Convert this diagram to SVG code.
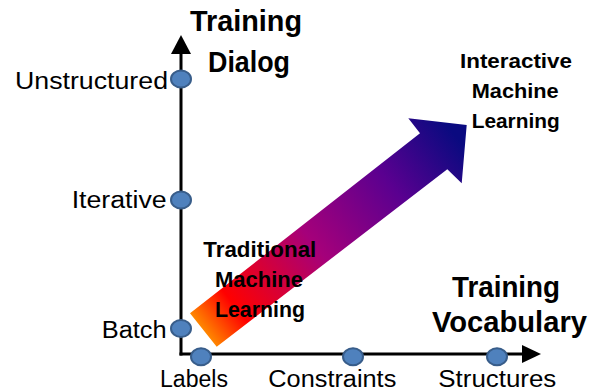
<svg xmlns="http://www.w3.org/2000/svg" width="597" height="391" viewBox="0 0 597 391">
  <style>
    text { font-family: "Liberation Sans", Arial, sans-serif; fill: #000; }
    .title { font-size: 30px; font-weight: bold; }
    .tick { font-size: 23px; }
    .lbl { font-size: 22px; font-weight: bold; }
    .lbl2 { font-size: 21px; font-weight: bold; }
    .axis { stroke: #000; stroke-width: 3; fill: none; }
    .dot { fill: #4f81bd; stroke: #385d8a; stroke-width: 2; }
  </style>
  <defs>
    <linearGradient id="arrowGrad" gradientUnits="userSpaceOnUse" x1="200" y1="335" x2="455" y2="135">
      <stop offset="0" stop-color="#ff9a00"/>
      <stop offset="0.14" stop-color="#ff0000"/>
      <stop offset="0.45" stop-color="#a5007a"/>
      <stop offset="0.75" stop-color="#5a0090"/>
      <stop offset="1" stop-color="#0a0a80"/>
    </linearGradient>
  </defs>

  <g id="connectors">
    <line class="axis" x1="181" y1="355.5" x2="181" y2="50"/>
    <polygon points="171,54 181,35 191,54" fill="#000"/>
    <line class="axis" x1="179.5" y1="354" x2="525" y2="354"/>
    <polygon points="522,345 541,354 522,363" fill="#000"/>
    <polygon id="progress-arrow" fill="url(#arrowGrad)" points="190,313.3 420,133.3 408.3,118.3 466.7,125 461.7,183.3 447.3,169.3 216.7,346.7"/>
  </g>

  <g id="y-axis-title">
    <text class="title" x="190" y="31" textLength="112" lengthAdjust="spacingAndGlyphs">Training</text>
    <text class="title" x="208" y="72" textLength="82" lengthAdjust="spacingAndGlyphs">Dialog</text>
  </g>
  <g id="x-axis-title">
    <text class="title" x="452" y="296.5" textLength="108" lengthAdjust="spacingAndGlyphs">Training</text>
    <text class="title" x="432" y="331.5" textLength="155" lengthAdjust="spacingAndGlyphs">Vocabulary</text>
  </g>

  <g id="unstructured">
    <ellipse class="dot" cx="181" cy="79" rx="10" ry="8.5"/>
    <text class="tick" x="15" y="89" textLength="153" lengthAdjust="spacingAndGlyphs">Unstructured</text>
  </g>
  <g id="iterative">
    <ellipse class="dot" cx="181" cy="200" rx="10" ry="8.5"/>
    <text class="tick" x="71.7" y="208.3" textLength="95" lengthAdjust="spacingAndGlyphs">Iterative</text>
  </g>
  <g id="batch">
    <ellipse class="dot" cx="181" cy="328.5" rx="10" ry="8.5"/>
    <text class="tick" x="101.7" y="338.3" textLength="65" lengthAdjust="spacingAndGlyphs">Batch</text>
  </g>
  <g id="labels">
    <ellipse class="dot" cx="201" cy="356.7" rx="10" ry="8.5"/>
    <text class="tick" x="160" y="387" textLength="68" lengthAdjust="spacingAndGlyphs">Labels</text>
  </g>
  <g id="constraints">
    <ellipse class="dot" cx="353" cy="356.7" rx="10" ry="8.5"/>
    <text class="tick" x="268.3" y="387" textLength="128" lengthAdjust="spacingAndGlyphs">Constraints</text>
  </g>
  <g id="structures">
    <ellipse class="dot" cx="497" cy="356.7" rx="10" ry="8.5"/>
    <text class="tick" x="438.3" y="387" textLength="118" lengthAdjust="spacingAndGlyphs">Structures</text>
  </g>

  <g id="traditional-ml">
    <text class="lbl" x="203.3" y="256.7" textLength="113" lengthAdjust="spacingAndGlyphs">Traditional</text>
    <text class="lbl" x="215" y="286.7" textLength="88" lengthAdjust="spacingAndGlyphs">Machine</text>
    <text class="lbl" x="215" y="316.5" textLength="90" lengthAdjust="spacingAndGlyphs">Learning</text>
  </g>
  <g id="interactive-ml">
    <text class="lbl2" x="460" y="68.3" textLength="112" lengthAdjust="spacingAndGlyphs">Interactive</text>
    <text class="lbl2" x="471.7" y="98.3" textLength="87" lengthAdjust="spacingAndGlyphs">Machine</text>
    <text class="lbl2" x="471.7" y="128.3" textLength="88" lengthAdjust="spacingAndGlyphs">Learning</text>
  </g>
</svg>
